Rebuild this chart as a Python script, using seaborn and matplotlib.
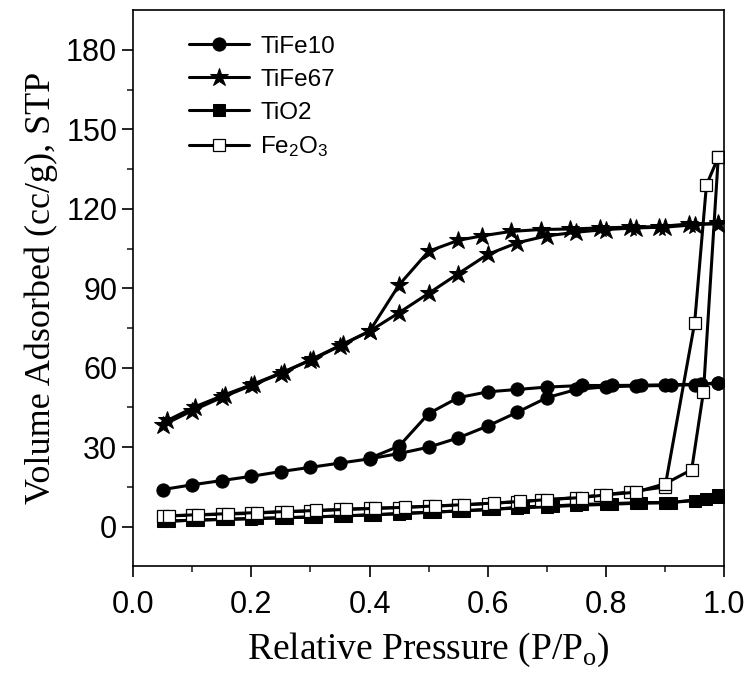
import numpy as np
import pandas as pd
import matplotlib
matplotlib.use("Agg")
import matplotlib.pyplot as plt
import seaborn as sns

# isotherm data (adsorption / desorption branches)
p_ads = [0.05, 0.10, 0.15, 0.20, 0.25, 0.30, 0.35, 0.40, 0.45, 0.50,
         0.55, 0.60, 0.65, 0.70, 0.75, 0.80, 0.85, 0.90, 0.95, 0.99]

tife10_ads = [14.0, 15.8, 17.4, 19.0, 20.8, 22.4, 24.0, 25.6, 27.6, 30.0,
              33.5, 38.0, 43.2, 48.7, 51.8, 52.8, 53.1, 53.3, 53.6, 54.1]
tife10_des_p = [0.99, 0.96, 0.91, 0.86, 0.81, 0.76, 0.70, 0.65, 0.60, 0.55, 0.50, 0.45, 0.40]
tife10_des = [54.3, 53.8, 53.6, 53.4, 53.3, 53.3, 52.7, 51.8, 50.9, 48.7, 42.7, 30.4, 25.8]

tife67_ads = [38.3, 43.8, 48.8, 53.3, 57.8, 63.0, 68.4, 73.8, 80.8, 88.1,
              95.5, 102.8, 107.2, 109.8, 111.2, 112.2, 112.8, 113.1, 114.0, 114.6]
tife67_des_p = [0.99, 0.94, 0.89, 0.84, 0.79, 0.74, 0.69, 0.64, 0.59, 0.55, 0.50, 0.45,
                0.40, 0.355, 0.305, 0.255, 0.205, 0.155, 0.105, 0.058]
tife67_des = [114.3, 114.3, 113.3, 113.1, 112.8, 112.4, 112.2, 111.5, 109.8, 108.1, 104.0, 91.3,
              73.8, 68.8, 63.3, 58.5, 54.0, 49.8, 45.3, 40.1]

tio2_ads = [2.0, 2.4, 2.7, 3.0, 3.3, 3.6, 4.0, 4.4, 4.9, 5.4,
            5.9, 6.5, 7.0, 7.5, 8.0, 8.4, 8.8, 9.0, 9.8, 11.2]
tio2_des_p = [0.99, 0.97, 0.91, 0.86, 0.81, 0.76, 0.71, 0.66, 0.61, 0.56, 0.51, 0.46,
              0.41, 0.36, 0.31, 0.26, 0.21, 0.16, 0.11, 0.06]
tio2_des = [12.0, 10.6, 9.1, 9.1, 8.7, 8.4, 7.8, 7.5, 6.5, 6.0, 5.5, 5.0,
            4.5, 4.1, 3.7, 3.4, 3.1, 2.8, 2.5, 2.1]

fe2o3_ads_p = [0.05, 0.10, 0.15, 0.20, 0.25, 0.30, 0.35, 0.40, 0.45, 0.50,
               0.55, 0.60, 0.65, 0.69, 0.75, 0.79, 0.84, 0.90, 0.95, 0.97, 0.99]
fe2o3_ads = [4.0, 4.3, 4.7, 5.0, 5.6, 5.9, 6.5, 6.9, 7.2, 7.7,
             8.1, 8.7, 9.4, 10.0, 11.0, 11.9, 13.1, 15.0, 76.9, 129.0, 139.5]
fe2o3_des_p = [0.99, 0.965, 0.945, 0.90, 0.85, 0.80, 0.76, 0.70, 0.655, 0.61, 0.56,
               0.51, 0.46, 0.41, 0.36, 0.31, 0.26, 0.21, 0.16, 0.11, 0.06]
fe2o3_des = [139.5, 51.0, 21.5, 16.2, 13.0, 12.0, 11.0, 10.2, 9.5, 8.9, 8.3,
             7.8, 7.3, 6.9, 6.5, 6.1, 5.7, 5.3, 4.9, 4.5, 4.1]

sns.set_style("ticks")
plt.rcParams["font.family"] = ["Liberation Sans", "DejaVu Sans"]
plt.rcParams["mathtext.fontset"] = "custom"
plt.rcParams["mathtext.rm"] = "Liberation Sans"
plt.rcParams["mathtext.it"] = "Liberation Sans"
plt.rcParams["text.color"] = "black"
plt.rcParams["axes.labelcolor"] = "black"

fig, ax = plt.subplots(figsize=(7.52, 6.84), dpi=100)
fig.subplots_adjust(left=0.177, right=0.963, top=0.985, bottom=0.172)

series = [
    ("TiFe10", p_ads, tife10_ads, tife10_des_p, tife10_des, dict(marker="o", markersize=9.5, markerfacecolor="black")),
    ("TiFe67", p_ads, tife67_ads, tife67_des_p, tife67_des, dict(marker="*", markersize=13.5, markerfacecolor="black")),
    ("TiO2", p_ads, tio2_ads, tio2_des_p, tio2_des, dict(marker="s", markersize=9, markerfacecolor="black")),
    ("Fe$_2$O$_3$", fe2o3_ads_p, fe2o3_ads, fe2o3_des_p, fe2o3_des,
     dict(marker="s", markersize=9, markerfacecolor="white", markeredgewidth=0.9)),
]

for name, xa, ya, xd, yd, mk in series:
    sns.lineplot(x=xa, y=ya, sort=False, estimator=None, color="black", lw=2.2,
                 markeredgecolor="black", label=name, ax=ax, **mk)
    sns.lineplot(x=xd, y=yd, sort=False, estimator=None, color="black", lw=2.2,
                 markeredgecolor="black", ax=ax, **mk)

ax.set_xlim(0.0, 1.0)
ax.set_ylim(-15, 195)
ax.set_xticks(np.arange(0, 1.01, 0.2))
ax.set_xticks(np.arange(0.1, 1.0, 0.2), minor=True)
ax.set_yticks(np.arange(0, 181, 30))
ax.set_yticks(np.arange(15, 181, 30), minor=True)
ax.xaxis.set_major_formatter(matplotlib.ticker.FormatStrFormatter("%.1f"))
ax.tick_params(axis="both", which="major", direction="out", length=8, width=1.2,
               labelsize=22, colors="black")
ax.tick_params(axis="x", which="major", pad=9)
ax.tick_params(axis="both", which="minor", direction="out", length=4.5, width=1.2)
for s in ax.spines.values():
    s.set_linewidth(1.2)
    s.set_color("black")

ax.set_xlabel("Relative Pressure (P/P$_\\mathregular{o}$)", family="Liberation Serif",
              fontsize=27, labelpad=8, color="black")
ax.set_ylabel("Volume Adsorbed (cc/g), STP", family="Liberation Serif",
              fontsize=26, labelpad=6, color="black")

ax.legend(loc="upper left", frameon=False, fontsize=17.5, handlelength=2.5,
          handletextpad=0.45, labelspacing=0.45, borderaxespad=0.3,
          bbox_to_anchor=(0.065, 0.985))

plt.savefig("out.png", dpi=100)
